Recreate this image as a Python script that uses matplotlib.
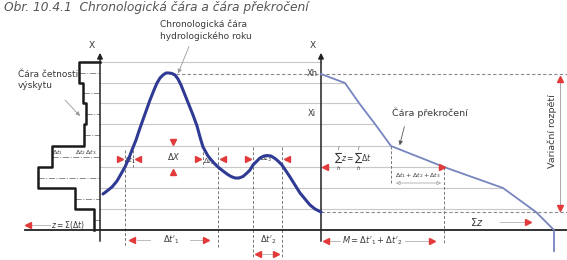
import matplotlib.pyplot as plt

# DATA (schematic, in picture units, y grows downward)
# band boundaries of the X axis (top -> bottom), baseline last
levels = [62, 83, 103, 124, 146, 167, 188, 209, 230]
# left edge of the frequency histogram in each band (top -> bottom)
hist_left = [79, 83, 86, 84, 52, 38, 75, 94]
# chronological line of the hydrological year
chron_t = [103, 107, 112, 117, 121, 125, 129, 132, 136, 140, 145, 150, 154,
           157, 160, 163, 166, 169, 172, 175, 178, 181, 185, 189, 193, 197,
           200, 203, 208, 213, 218, 223, 227, 231, 235, 239, 243, 247, 250,
           253, 257, 260, 264, 267, 271, 275, 278, 282, 286, 290, 295, 300,
           305, 310, 315, 321]
chron_x = [194, 191, 187, 181, 174, 167, 158, 150, 140, 128, 114, 100, 90,
           83, 78, 75, 73, 73, 73.5, 75, 79, 85, 95, 105, 115, 126,
           137, 147, 156, 162, 167, 171, 174, 176.5, 178, 178, 176.5, 173, 170,
           165, 161, 158, 156, 155.5, 156, 158.5, 161, 165, 171, 177, 185, 193,
           199, 205, 209, 212]
# exceedance (duration) curve
exc_t = [321, 345, 359, 375, 391, 444, 503, 536, 554]
exc_x = [74, 83, 103, 124, 146, 167, 188, 212, 230]
x_max = 74
x_min = 212
# crossings of the chronological line with levels 146 and 167
cross_146 = [133, 203]
cross_167 = [125, 218, 253, 282]

red = '#e23a3a'
blue = '#2f3a94'
lblue = '#7684bf'
grey = '#c8c8c8'
txt = '#3a3a3a'

fig = plt.figure(figsize=(5.67, 2.6), dpi=100)
ax = fig.add_axes([0, 0, 1, 1])
ax.set_xlim(0, 567)
ax.set_ylim(260, 0)
ax.axis('off')

left_ax = 100
right_ax = 321
base = levels[-1]

# title
ax.text(4, 8, 'Obr. 10.4.1  Chronologická čára a čára překročení',
        fontsize=8.8, style='italic', color='#555555', va='center')

# grid lines: to the right axis for the top one, to the exceedance curve else
ax.plot([left_ax, right_ax], [levels[0], levels[0]], color=grey, lw=0.8, zorder=1)
for lv in levels[1:-1]:
    # where the exceedance curve reaches this level
    xe = None
    for i in range(len(exc_x) - 1):
        if exc_x[i] <= lv <= exc_x[i + 1]:
            f = (lv - exc_x[i]) / (exc_x[i + 1] - exc_x[i])
            xe = exc_t[i] + f * (exc_t[i + 1] - exc_t[i])
    ax.plot([left_ax, xe], [lv, lv], color=grey, lw=0.8, zorder=1)

# max / min dashed lines
ax.plot([176, 567], [x_max, x_max], color='#8a8a8a', lw=0.8, ls=(0, (3, 2)))
ax.plot([321, 567], [x_min, x_min], color='#8a8a8a', lw=0.8, ls=(0, (3, 2)))

# histogram (frequency of occurrence)
hx = [left_ax]
hy = [levels[0]]
for i, xl in enumerate(hist_left):
    hx += [xl, xl]
    hy += [levels[i], levels[i + 1]]
ax.plot(hx, hy, color='#1a1a1a', lw=1.8, zorder=3)
for i, xl in enumerate(hist_left):
    mid = (levels[i] + levels[i + 1]) / 2
    ax.plot([xl, left_ax], [mid, mid], color='#8a8a8a', lw=0.7, ls='-.')

# axes
ax.plot([25, 567], [base, base], color='#222222', lw=1.3, zorder=4)
ax.annotate('', xy=(left_ax, 50), xytext=(left_ax, 244),
            arrowprops=dict(arrowstyle='-|>', color='#222222', lw=1.1,
                            mutation_scale=8))
ax.annotate('', xy=(right_ax, 50), xytext=(right_ax, 244),
            arrowprops=dict(arrowstyle='-|>', color='#222222', lw=1.1,
                            mutation_scale=8))
ax.text(92, 45, 'X', fontsize=6.5, color=txt, ha='center', va='center')
ax.text(313, 45, 'X', fontsize=6.5, color=txt, ha='center', va='center')

# curves
ax.plot(chron_t, chron_x, color=blue, lw=2.2, zorder=5,
        solid_capstyle='round', solid_joinstyle='round')
ax.plot(exc_t, exc_x, color=lblue, lw=1.3, zorder=5)
ax.plot([exc_t[-1], exc_t[-1]], [base, 251], color=lblue, lw=1.3)

# dashed verticals
dash = dict(color='#777777', lw=0.7, ls=(0, (3, 2)), zorder=2)
ax.plot([cross_167[0]] * 2, [150, 247], **dash)
ax.plot([cross_146[0]] * 2, [150, 167], **dash)
ax.plot([cross_146[1]] * 2, [147, 167], **dash)
ax.plot([cross_167[1]] * 2, [147, 247], **dash)
ax.plot([cross_167[2]] * 2, [147, 258], **dash)
ax.plot([cross_167[3]] * 2, [147, 258], **dash)
ax.plot([exc_t[4]] * 2, [146, 183], **dash)
ax.plot([exc_t[5]] * 2, [167, 244], **dash)


def arrow(x, y, d, ms=4.5):
    m = {'r': '>', 'l': '<', 'u': '^', 'd': 'v'}[d]
    ax.plot([x], [y], marker=m, color=red, ms=ms, mec=red, zorder=6, ls='none')


def guide(x0, x1, y):
    ax.plot([x0, x1], [y, y], color='#bbbbbb', lw=0.7, zorder=2)


# delta t arrows on the band 146-167
ya = 159
arrow(120, ya, 'r'); arrow(138, ya, 'l')
ax.text(130, ya + 1, r'$\Delta t_1$', fontsize=5, color=txt, ha='center', va='center')
arrow(198, ya, 'r'); arrow(223, ya, 'l')
ax.text(209, ya + 2, r'$\Delta t_2$', fontsize=5, color=txt, ha='center', va='center')
arrow(248, ya, 'r'); arrow(287, ya, 'l')
ax.text(266, ya - 1, r'$\Delta t_3$', fontsize=5, color=txt, ha='center', va='center')

# delta X
arrow(173, 142, 'd'); arrow(173, 172, 'u')
ax.text(174, 156, r'$\Delta X$', fontsize=6, color=txt, ha='center', va='center')

# bottom durations
arrow(132, 240, 'l'); guide(137, 150, 240)
guide(190, 202, 240); arrow(206, 240, 'r')
ax.text(171, 240, r"$\Delta t'_1$", fontsize=6, color=txt, ha='center', va='center')
ax.text(268, 240, r"$\Delta t'_2$", fontsize=6, color=txt, ha='center', va='center')
arrow(258, 254, 'l'); guide(260, 273, 254); arrow(276, 254, 'r')

# histogram labels
ax.text(58, 153, r'$\Delta t_1$', fontsize=4.5, color=txt, ha='center', va='center')
ax.text(86, 153, r'$\Delta t_2\,\Delta t_3$', fontsize=4.5, color=txt, ha='center', va='center')
arrow(28, 225, 'l'); guide(32, 50, 225)
ax.text(68, 225, r'$z = \Sigma(\Delta t)$', fontsize=5.5, color=txt, ha='center', va='center')

ax.text(18, 80, 'Čára četnosti\nvýskytu', fontsize=6.5, color=txt, va='center',
        linespacing=1.3)
ax.annotate('', xy=(82, 118), xytext=(63, 98),
            arrowprops=dict(arrowstyle='-|>', color='#999999', lw=0.6,
                            mutation_scale=6))

ax.text(160, 30, 'Chronologická čára\nhydrologického roku', fontsize=6.5,
        color=txt, va='center', linespacing=1.3)
ax.annotate('', xy=(177, 76), xytext=(190, 44),
            arrowprops=dict(arrowstyle='-|>', color='#999999', lw=0.6,
                            mutation_scale=6))

# right panel labels
ax.text(318, 74, 'Xh', fontsize=6, color=txt, ha='right', va='center')
ax.text(316, 113, 'Xi', fontsize=6, color=txt, ha='right', va='center')
ax.text(392, 113, 'Čára překročení', fontsize=6.8, color=txt, va='center')
ax.annotate('', xy=(399, 148), xytext=(405, 124),
            arrowprops=dict(arrowstyle='-|>', color='#555555', lw=0.6,
                            mutation_scale=6))

arrow(325, 167, 'l'); arrow(442, 167, 'r')
ax.text(353, 159, r'$\sum_h^i z = \sum_h^i \Delta t$', fontsize=5.5, color=txt,
        ha='center', va='center')
ax.text(418, 176, r'$\Delta t_1 + \Delta t_2 + \Delta t_3$', fontsize=4.5,
        color=txt, ha='center', va='center')
ax.annotate('', xy=(393, 183), xytext=(444, 183),
            arrowprops=dict(arrowstyle='<|-|>', color='#aaaaaa', lw=0.6,
                            mutation_scale=6, fc='white'))

arrow(326, 241, 'l'); guide(330, 340, 241)
ax.text(372, 241, r"$M = \Delta t'_1 + \Delta t'_2$", fontsize=6, color=txt,
        ha='center', va='center')
guide(405, 428, 241); arrow(432, 241, 'r')

ax.text(477, 222, r'$\Sigma z$', fontsize=7, color=txt, ha='center', va='center')
guide(500, 524, 222); arrow(528, 222, 'r')

# variation range
ax.plot([560, 560], [78, 208], color='#999999', lw=0.6)
arrow(560, 79, 'u'); arrow(560, 208, 'd')
ax.text(552, 131, 'Variační rozpětí', fontsize=6.8, color=txt, rotation=90,
        ha='center', va='center')

fig.savefig('out.png', dpi=100)
